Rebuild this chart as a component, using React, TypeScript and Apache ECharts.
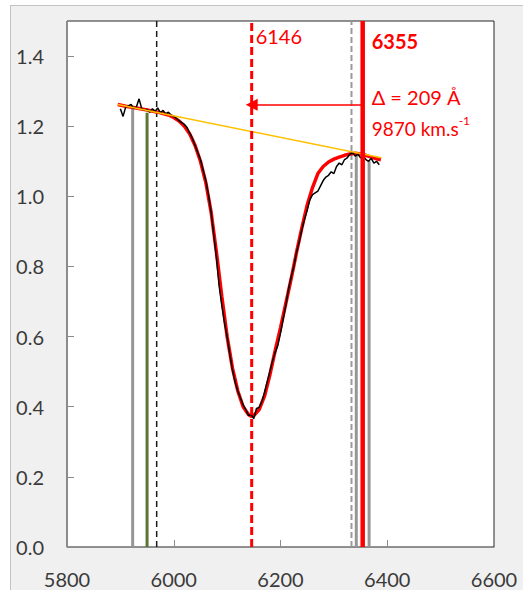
import React, { useEffect, useRef } from "react";
import * as echarts from "echarts";

// Axis setup
const xMin = 5800;
const xMax = 6600;
const xStep = 200;
const yMin = 0;
const yMax = 1.5;
const yStep = 0.2;

// Observed spectrum (black)
const specWave = [
  5900, 5905, 5910, 5915, 5920, 5925, 5930, 5935, 5940, 5945, 5950, 5955, 5960, 5965, 5970, 5975,
  5980, 5985, 5990, 5995, 6000, 6005, 6010, 6015, 6020, 6025, 6030, 6035, 6040, 6045, 6050, 6055,
  6060, 6065, 6070, 6075, 6080, 6085, 6090, 6095, 6100, 6105, 6110, 6115, 6120, 6125, 6130, 6135,
  6140, 6145, 6150, 6155, 6160, 6165, 6170, 6175, 6180, 6185, 6190, 6195, 6200, 6205, 6210, 6215,
  6220, 6225, 6230, 6235, 6240, 6245, 6250, 6255, 6260, 6265, 6270, 6275, 6280, 6285, 6290, 6295,
  6300, 6305, 6310, 6315, 6320, 6325, 6330, 6335, 6340, 6345, 6350, 6355, 6360, 6365, 6370, 6375,
  6380, 6385,
];
const specFlux = [
  1.25, 1.228, 1.255, 1.258, 1.262, 1.25, 1.255, 1.278, 1.25, 1.245, 1.248, 1.24, 1.25, 1.242, 1.252, 1.238,
  1.245, 1.235, 1.24, 1.232, 1.228, 1.222, 1.215, 1.21, 1.205, 1.196, 1.18, 1.165, 1.145, 1.125, 1.105, 1.075,
  1.045, 1.005, 0.955, 0.89, 0.825, 0.745, 0.69, 0.64, 0.6, 0.55, 0.505, 0.47, 0.445, 0.425, 0.405, 0.392,
  0.375, 0.378, 0.366, 0.395, 0.398, 0.415, 0.44, 0.47, 0.5, 0.53, 0.555, 0.575, 0.61, 0.65, 0.69, 0.735,
  0.77, 0.8, 0.84, 0.87, 0.905, 0.935, 0.96, 0.99, 1.005, 1.01, 1.015, 1.03, 1.045, 1.055, 1.06, 1.07,
  1.065, 1.085, 1.095, 1.09, 1.105, 1.11, 1.12, 1.125, 1.115, 1.12, 1.11, 1.115, 1.105, 1.1, 1.108, 1.095,
  1.1, 1.09,
];

// Fitted profile (red)
const fitWave = [
  5895, 5910, 5930, 5950, 5970, 5990, 6000, 6010, 6020, 6030, 6040, 6050, 6060, 6070, 6080, 6090,
  6100, 6110, 6120, 6130, 6140, 6146, 6150, 6160, 6170, 6180, 6190, 6200, 6210, 6220, 6230, 6240,
  6250, 6260, 6270, 6280, 6290, 6300, 6310, 6320, 6330, 6340, 6350, 6360, 6370, 6380, 6388,
];
const fitFlux = [
  1.262, 1.257, 1.252, 1.246, 1.24, 1.232, 1.225, 1.215, 1.2, 1.178, 1.145, 1.1, 1.04, 0.955, 0.84, 0.715,
  0.6, 0.51, 0.445, 0.4, 0.378, 0.372, 0.375, 0.392, 0.43, 0.49, 0.56, 0.625, 0.695, 0.765, 0.84, 0.91,
  0.975, 1.025, 1.065, 1.085, 1.098, 1.106, 1.112, 1.117, 1.121, 1.123, 1.121, 1.117, 1.112, 1.107, 1.104,
];

// Pseudo-continuum (orange)
const contWave = [5895, 6389];
const contFlux = [1.262, 1.11];

// Vertical markers
const markerWave = [5923, 5950, 5968, 6146, 6333, 6342, 6366, 6354];
const markerTop = [1.255, 1.238, 1.5, 1.5, 1.5, 1.12, 1.1, 1.5];

// Arrow (velocity shift)
const arrowFrom = 6354;
const arrowTo = 6146;
const arrowLevel = 1.261;

// Annotation texts
const labelMin = "6146";
const labelRest = "6355";
const labelDelta = "Δ = 209 Å";
const labelVel = "9870 km.s";
const labelVelExp = "-1";

const FONT = "Lato";

const markerStyles = [
  { color: "#969696", width: 3, type: "solid", z: 2 },
  { color: "#5e7432", width: 3, type: "solid", z: 2 },
  { color: "#1a1a1a", width: 1.5, type: [6, 4], z: 2 },
  { color: "#ff0000", width: 3, type: [8, 4], z: 7 },
  { color: "#9a9a9a", width: 2, type: [6, 3], z: 2 },
  { color: "#969696", width: 3, type: "solid", z: 2 },
  { color: "#969696", width: 3, type: "solid", z: 2 },
  { color: "#ff0000", width: 4.5, type: "solid", z: 7 },
];

export default function App() {
  const ref = useRef<HTMLDivElement>(null);

  useEffect(() => {
    const chart = echarts.init(ref.current!, null, { renderer: "svg" });

    const vertical = markerWave.map((w, i) => ({
      type: "line",
      data: [
        [w, 0],
        [w, markerTop[i]],
      ],
      symbol: "none",
      silent: true,
      z: markerStyles[i].z,
      lineStyle: {
        color: markerStyles[i].color,
        width: markerStyles[i].width,
        type: markerStyles[i].type,
      },
    }));

    const option: any = {
      animation: false,
      backgroundColor: "transparent",
      grid: {
        left: 67,
        top: 21,
        width: 427,
        height: 526,
        show: true,
        backgroundColor: "#ffffff",
        borderColor: "#262626",
        borderWidth: 1,
        outerBoundsMode: "none",
      },
      xAxis: {
        type: "value",
        min: xMin,
        max: xMax,
        interval: xStep,
        axisLine: { show: true, lineStyle: { color: "#8c8c8c", width: 1 } },
        axisTick: { show: true, inside: true, length: 7, lineStyle: { color: "#8c8c8c" } },
        axisLabel: {
          color: "#3a3a3a",
          fontSize: 20,
          fontFamily: FONT,
          margin: 22,
          formatter: (v: number) => String(Math.round(v)),
        },
        splitLine: { show: false },
      },
      yAxis: {
        type: "value",
        min: yMin,
        max: yMax,
        interval: yStep,
        axisLine: { show: true, lineStyle: { color: "#8c8c8c", width: 1 } },
        axisTick: { show: true, inside: true, length: 7, lineStyle: { color: "#8c8c8c" } },
        axisLabel: {
          color: "#3a3a3a",
          fontSize: 20,
          fontFamily: FONT,
          margin: 23,
          showMaxLabel: false,
          formatter: (v: number) => v.toFixed(1),
        },
        splitLine: { show: false },
      },
      series: [
        ...vertical,
        {
          type: "line",
          data: fitWave.map((w, i) => [w, fitFlux[i]]),
          symbol: "none",
          silent: true,
          z: 3,
          lineStyle: { color: "#ff0000", width: 3.5 },
        },
        {
          type: "line",
          data: specWave.map((w, i) => [w, specFlux[i]]),
          symbol: "none",
          silent: true,
          z: 4,
          lineStyle: { color: "#000000", width: 1.5 },
        },
        {
          type: "line",
          data: contWave.map((w, i) => [w, contFlux[i]]),
          symbol: "none",
          silent: true,
          z: 5,
          lineStyle: { color: "#ffc000", width: 1.5 },
        },
        {
          type: "line",
          data: [],
          silent: true,
          z: 6,
          markLine: {
            silent: true,
            symbol: ["none", "triangle"],
            symbolSize: 12,
            label: { show: false },
            lineStyle: { color: "#ff0000", width: 1.5, type: "solid" },
            data: [[{ coord: [arrowFrom, arrowLevel] }, { coord: [arrowTo, arrowLevel] }]],
          },
        },
      ],
    };
    chart.setOption(option);

    const pMin = chart.convertToPixel({ gridIndex: 0 }, [arrowTo, yMax]);
    const pRest = chart.convertToPixel({ gridIndex: 0 }, [arrowFrom, yMax]);
    const textStyle = { fontFamily: FONT, fontSize: 20, fill: "#ff0000", align: "left", verticalAlign: "middle" };
    chart.setOption({
      graphic: [
        { type: "text", silent: true, z: 10, style: { ...textStyle, text: labelMin, x: pMin[0] + 4, y: pMin[1] + 15 } },
        {
          type: "text",
          silent: true,
          z: 10,
          style: { ...textStyle, fontWeight: "bold", text: labelRest, x: pRest[0] + 9, y: pRest[1] + 20 },
        },
        { type: "text", silent: true, z: 10, style: { ...textStyle, text: labelDelta, x: pRest[0] + 9, y: pRest[1] + 76 } },
        {
          type: "text",
          silent: true,
          z: 10,
          style: {
            ...textStyle,
            text: `{a|${labelVel}}{b|${labelVelExp}}`,
            x: pRest[0] + 9,
            y: pRest[1] + 105,
            rich: {
              a: { fontFamily: FONT, fontSize: 19, fill: "#ff0000", lineHeight: 24, verticalAlign: "bottom" },
              b: { fontFamily: FONT, fontSize: 12, fill: "#ff0000", lineHeight: 24, verticalAlign: "top" },
            },
          },
        },
      ],
    });

    return () => chart.dispose();
  }, []);

  return (
    <div
      style={{
        position: "fixed",
        left: 0,
        top: 0,
        width: 523,
        height: 590,
        overflow: "hidden",
        background: "#ffffff",
      }}
    >
      <div
        style={{
          position: "absolute",
          left: 10,
          top: 5,
          width: 560,
          height: 640,
          border: "1px solid #c3c3c3",
          background: "#f0f0f0",
        }}
      />
      <div ref={ref} style={{ position: "absolute", left: 0, top: 0, width: 523, height: 590 }} />
    </div>
  );
}
